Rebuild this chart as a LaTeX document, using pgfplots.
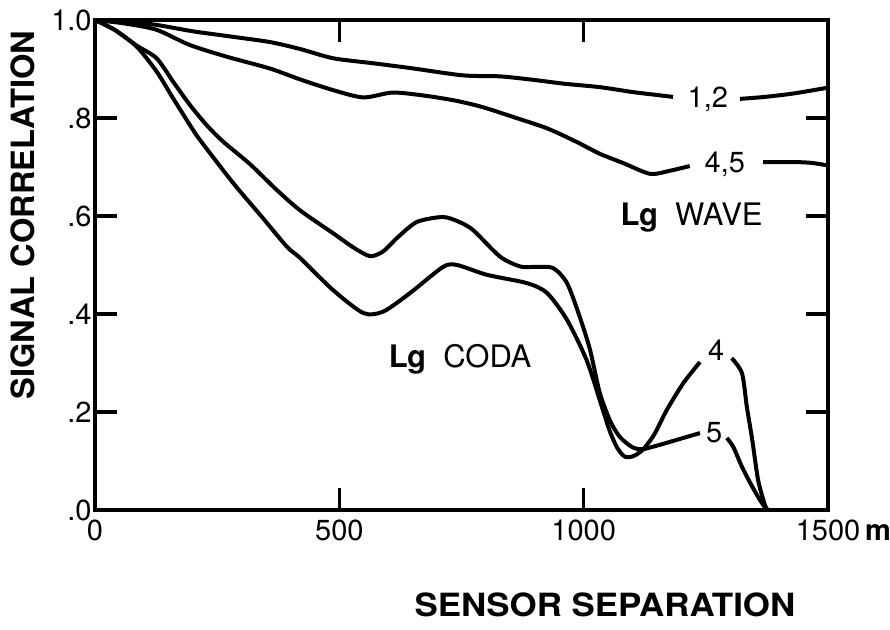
\documentclass[border=0pt]{standalone}
\usepackage{pgfplots}
\pgfplotsset{compat=1.18}
\usepackage{graphicx}
\usepackage{fontspec}
\setmainfont{TeX Gyre Heros}

\newcommand{\Lg}{{\bfseries L\kern-0.3pt g}}

\begin{document}
\begin{tikzpicture}
\path (-47.5pt,-59.5pt) rectangle (397.5pt,255pt);
\begin{axis}[
    at={(0pt,0pt)}, anchor=south west,
    scale only axis,
    width=366.5pt, height=245pt,
    xmin=0, xmax=1500, ymin=0, ymax=1,
    xtick={0,500,1000,1500},
    xticklabels={0,500,1000,1500\rlap{\,\textbf{m}}},
    ytick={0,0.2,0.4,0.6,0.8,1},
    yticklabels={.0,.2,.4,.6,.8,1.0},
    major tick length=0pt,
    axis line style={line width=1.9pt},
    /pgf/number format/assume math mode=true,
    ticklabel style={font=\fontsize{14.5}{16}\selectfont},
    yticklabel style={inner sep=1.5pt},
    xticklabel style={yshift=-1.5pt},
    every axis plot post/.append style={line width=2pt, black, solid, mark=none, smooth, tension=0.45},
]
% curve 1,2
\addplot coordinates {
    (0,1.0) (60,0.997) (126,0.990) (200,0.977) (280,0.966) (358,0.955)
    (419,0.941) (487,0.922) (567,0.912) (645,0.902) (753,0.887) (829,0.885)
    (896,0.878) (960,0.870) (1033,0.863) (1100,0.853) (1150,0.847) (1183,0.843)
};
\addplot coordinates {
    (1320,0.839) (1370,0.843) (1422,0.849) (1460,0.855) (1500,0.862)
};
% curve 4,5
\addplot coordinates {
    (0,1.0) (60,0.993) (126,0.980) (194,0.949) (270,0.925) (358,0.901)
    (419,0.879) (487,0.857) (549,0.842) (610,0.852) (679,0.845) (740,0.835)
    (794,0.822) (856,0.802) (925,0.779) (986,0.751) (1033,0.727) (1081,0.708)
    (1136,0.686) (1175,0.692) (1217,0.702)
};
\addplot coordinates {
    (1367,0.710) (1436,0.710) (1470,0.708) (1500,0.703)
};
% Lg coda, upper curve (5)
\addplot coordinates {
    (0,1.0) (40,0.980) (85,0.948) (126,0.922) (160,0.874) (194,0.827)
    (228,0.786) (262,0.752) (317,0.706) (370,0.655) (419,0.612) (487,0.565)
    (530,0.535) (563,0.518) (590,0.528) (620,0.557) (659,0.588) (712,0.598)
    (745,0.588) (774,0.571) (829,0.517) (870,0.497) (900,0.496) (937,0.494)
    (966,0.463) (992,0.394) (1013,0.327) (1033,0.239) (1055,0.180)
    (1075,0.148) (1100,0.128) (1120,0.124) (1145,0.130) (1190,0.143) (1238,0.157)
};
\addplot coordinates {
    (1293,0.147) (1306,0.129) (1324,0.088) (1341,0.055) (1361,0.020) (1375,0.0)
};
% Lg coda, lower curve (4)
\addplot coordinates {
    (0,1.0) (40,0.980) (85,0.946) (126,0.895) (160,0.840) (194,0.786)
    (215,0.755) (283,0.667) (340,0.600) (393,0.537) (419,0.515) (487,0.449)
    (549,0.402) (590,0.405) (645,0.443) (712,0.496) (741,0.500) (802,0.480)
    (884,0.463) (925,0.443) (966,0.388) (1006,0.306) (1033,0.224) (1052,0.165)
    (1068,0.128) (1084,0.109) (1102,0.110) (1122,0.124) (1145,0.155)
    (1170,0.204) (1204,0.259) (1238,0.302)
};
\addplot coordinates {
    (1303,0.310) (1324,0.279) (1334,0.210) (1345,0.143) (1357,0.061) (1371,0.010) (1377,0.0)
};

\begin{scope}[every node/.style={font=\fontsize{14.5}{16}\selectfont, anchor=base}]
\node at (axis cs:1254,0.822) {1,2};
\node at (axis cs:1289,0.688) {4,5};
\node at (axis cs:1271,0.306) {4};
\node at (axis cs:1267,0.137) {5};
\end{scope}
\node[anchor=base, font=\fontsize{15.5}{17}\selectfont] at (axis cs:1221,0.580) {\Lg\ \ WAVE};
\node[anchor=base, font=\fontsize{15.5}{17}\selectfont] at (axis cs:747,0.290) {\Lg\ \ CODA};
\end{axis}
% inward ticks as small filled bars on the 366.5pt x 245pt box
\foreach \xx in {122.17,244.33} {
    \fill[black] (\xx pt-0.8pt,0pt) rectangle (\xx pt+0.8pt,11pt);
    \fill[black] (\xx pt-0.8pt,245pt) rectangle (\xx pt+0.8pt,234pt);
}
\foreach \yy in {49,98,147,196} {
    \fill[black] (0pt,\yy pt-0.8pt) rectangle (11pt,\yy pt+0.8pt);
    \fill[black] (366.5pt,\yy pt-0.8pt) rectangle (355.5pt,\yy pt+0.8pt);
}
\node[rotate=90, font=\fontsize{16}{18}\selectfont\bfseries] at (-36pt,147.5pt) {\scalebox{1.02}[1]{SIGNAL CORRELATION}};
\node[font=\fontsize{16}{18}\selectfont\bfseries] at (255pt,-47.5pt) {\scalebox{1.09}[1]{SENSOR SEPARATION}};
\end{tikzpicture}
\end{document}
